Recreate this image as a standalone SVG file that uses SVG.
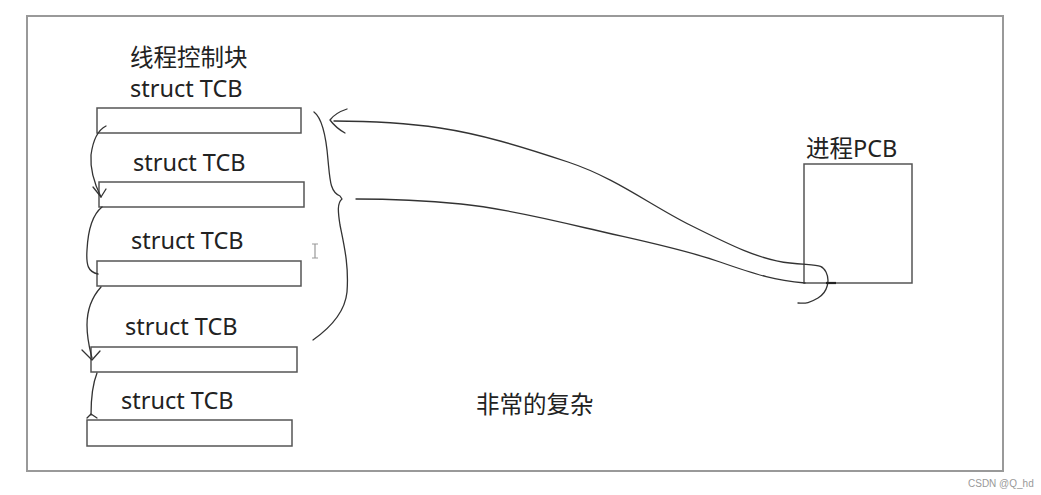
<svg xmlns="http://www.w3.org/2000/svg" width="1041" height="495" viewBox="0 0 1041 495">
<style>
.t{font-family:"Noto Sans","Noto Sans CJK SC",sans-serif;font-size:23.5px;fill:#222}
.box{fill:#fff;stroke:#555;stroke-width:1.5}
.ink{fill:none;stroke:#333;stroke-width:1.3;stroke-linecap:round;stroke-linejoin:round}
</style>
<rect x="0" y="0" width="1041" height="495" fill="#fff"/>
<rect x="27" y="16" width="976" height="455" fill="none" stroke="#999" stroke-width="2"/>
<g id="title"><text class="t" x="130" y="66">线程控制块</text></g>
<g id="tcb1"><text class="t" x="130" y="97">struct TCB</text><rect class="box" x="97" y="108" width="204" height="25"/></g>
<g id="tcb2"><text class="t" x="133" y="171">struct TCB</text><rect class="box" x="99" y="182" width="205" height="25"/></g>
<g id="tcb3"><text class="t" x="131" y="249">struct TCB</text><rect class="box" x="97" y="261" width="204" height="25"/></g>
<g id="tcb4"><text class="t" x="125" y="335">struct TCB</text><rect class="box" x="91" y="347" width="206" height="25"/></g>
<g id="tcb5"><text class="t" x="121" y="409">struct TCB</text><rect class="box" x="87" y="420" width="205" height="26"/></g>
<g id="pcb"><text class="t" x="806" y="157">进程PCB</text><rect class="box" x="804" y="164" width="108" height="119"/></g>
<g id="note"><text class="t" x="476" y="413">非常的复杂</text></g>
<g id="connectors">
<path class="ink" d="M314,112 C322,118 326,135 328,160 C330,180 330,192 340,196 L342,199 C337,203 338,212 340,225 C344,245 349,265 347,292 C345,312 330,328 313,340"/>
<path class="ink" d="M334,121 C360,121 400,122 440,128 S520,146 568,162 S650,205 690,225 S760,260 790,263 S822,264 826,272 S828,292 818,298 S805,303 798,303"/>
<path class="ink" d="M347,109 Q335,113 330,120 Q336,128 345,133"/>
<path class="ink" d="M356,199 C390,199 430,201 461,204 S540,217 586,228 S680,248 720,262 S775,280 805,283"/>
<path fill="none" stroke="#222" stroke-width="2.2" d="M826,283 L836,283"/>
<path class="ink" d="M106,126 C98,130 93,140 91,155 C90,170 95,185 101,197"/>
<path class="ink" d="M93,187 L101,197 L106,189"/>
<path class="ink" d="M102,207 C92,215 88,230 87,250 C86,265 88,272 98,274"/>
<path class="ink" d="M101,287 C92,297 87,310 87,325 C87,340 90,350 92,358"/>
<path class="ink" d="M82,350 L92,360 L100,351"/>
<path class="ink" d="M97,373 C93,383 91,395 91,415"/>
<path class="ink" d="M87,418 L91,414 L97,418"/>
</g>
<path fill="none" stroke="#999" stroke-width="1.2" d="M312,244 L318,244 M315,244 L315,258 M312,258 L318,258"/>
<text x="968" y="487" font-family="Liberation Sans, sans-serif" font-size="10" fill="#999">CSDN @Q_hd</text>
</svg>
